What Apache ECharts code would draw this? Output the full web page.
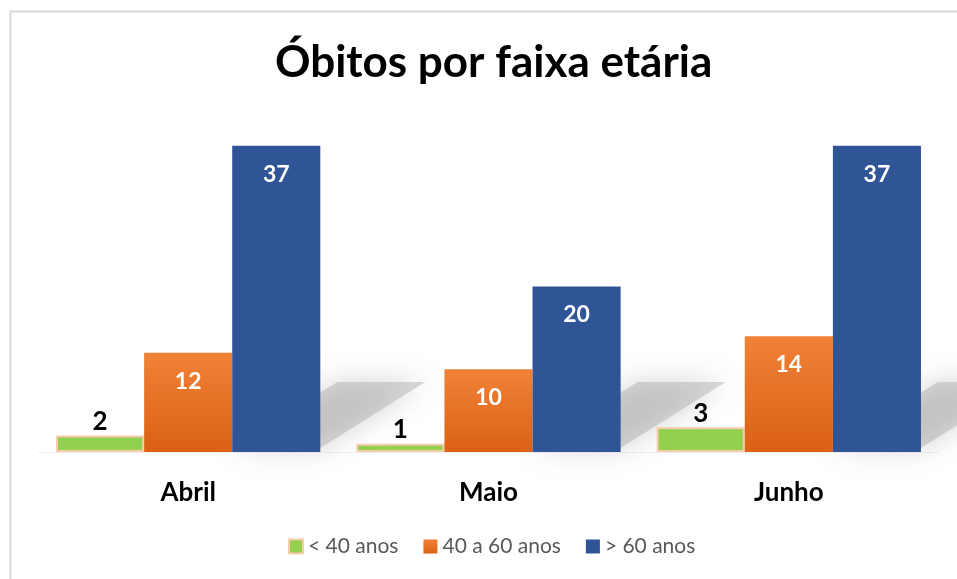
<!DOCTYPE html>
<html>
<head>
<meta charset="utf-8">
<script src="https://cdn.jsdelivr.net/npm/echarts@6/dist/echarts.min.js"></script>
<style>
  html, body { margin: 0; padding: 0; background: #fff; }
  #main { width: 957px; height: 579px; }
</style>
</head>
<body>
<div id="main"></div>
<script>
// dados
var meses = ["Abril", "Maio", "Junho"];
var nomesSeries = ["< 40 anos", "40 a 60 anos", "> 60 anos"];
var menos40 = [2, 1, 3];
var de40a60 = [12, 10, 14];
var mais60 = [37, 20, 37];

var chart = echarts.init(document.getElementById("main"));
var fonte = "Lato, 'Open Sans', sans-serif";
var gapCategoria = 0.12;

// sombra inclinada atrás das barras azuis (só decoração)
function sombra(params, api) {
  var base = api.coord([api.value(0), 0]);
  var largCat = api.size([1, 0])[0];
  var largBarra = largCat * (1 - gapCategoria) / 3;
  var x0 = base[0] + largBarra * 0.5;
  var x1 = base[0] + largBarra * 1.5;
  var dx = 105, dy = 70;
  return {
    type: "polygon",
    shape: {
      points: [[x0, base[1] - 4], [x1, base[1] - 4], [x1 + dx, base[1] - dy], [x0 + dx, base[1] - dy]]
    },
    style: {
      fill: "rgba(170,170,170,0.45)",
      shadowBlur: 28,
      shadowColor: "rgba(150,150,150,0.9)"
    },
    z2: 0
  };
}

chart.setOption({
  animation: false,
  title: {
    text: "Óbitos por faixa etária",
    left: 270,
    top: 36,
    textStyle: { fontFamily: fonte, fontSize: 44, fontWeight: "bold", color: "#000" }
  },
  graphic: [{
    type: "rect",
    left: 8, top: 9,
    shape: { width: 1200, height: 800 },
    style: { fill: "none", stroke: "#d9d9d9", lineWidth: 2 },
    silent: true
  }],
  legend: {
    bottom: 17,
    left: 283,
    itemWidth: 14,
    itemHeight: 14,
    itemGap: 25,
    icon: "rect",
    data: nomesSeries,
    textStyle: { fontFamily: fonte, fontSize: 21, color: "#595959" }
  },
  grid: { left: 38, right: 18, top: 121, bottom: 127 },
  xAxis: {
    type: "category",
    data: meses,
    axisLine: { show: true, lineStyle: { color: "#f0f0f0" } },
    axisTick: { show: false },
    axisLabel: { margin: 28, fontFamily: fonte, fontSize: 26, fontWeight: "bold", color: "#000" }
  },
  yAxis: {
    type: "value",
    min: 0,
    max: 40,
    show: false,
    splitLine: { show: false }
  },
  series: [
    {
      type: "custom",
      renderItem: sombra,
      data: mais60.map(function (v, i) { return [i, v]; }),
      encode: { x: 0, y: 1 },
      z: 1,
      silent: true,
      tooltip: { show: false }
    },
    {
      name: nomesSeries[0],
      type: "bar",
      data: menos40,
      barGap: "0%",
      barCategoryGap: "12%",
      z: 3,
      itemStyle: { color: "#92d050", borderColor: "#f8cbad", borderWidth: 2 },
      label: {
        show: true, position: "top", distance: 1,
        fontFamily: fonte, fontSize: 26, fontWeight: "bold", color: "#000"
      }
    },
    {
      name: nomesSeries[1],
      type: "bar",
      data: de40a60,
      z: 3,
      itemStyle: {
        color: new echarts.graphic.LinearGradient(0, 0, 0, 1, [
          { offset: 0, color: "#f08237" },
          { offset: 1, color: "#db6113" }
        ])
      },
      label: {
        show: true, position: "insideTop", distance: 17,
        fontFamily: fonte, fontSize: 23, fontWeight: "bold", color: "#fff"
      }
    },
    {
      name: nomesSeries[2],
      type: "bar",
      data: mais60,
      z: 3,
      itemStyle: { color: "#2f5597" },
      label: {
        show: true, position: "insideTop", distance: 17,
        fontFamily: fonte, fontSize: 23, fontWeight: "bold", color: "#fff"
      }
    }
  ]
});

window.addEventListener("resize", function () {
  chart.resize();
});
</script>
</body>
</html>
